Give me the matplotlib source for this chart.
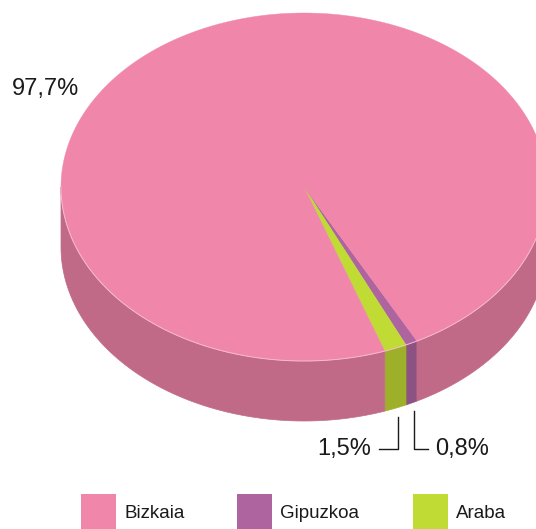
import matplotlib.pyplot as plt
from matplotlib.patches import Polygon, Rectangle
import numpy as np

# data
labels = ["Bizkaia", "Gipuzkoa", "Araba"]
values = [97.7, 0.8, 1.5]
top_colors = ["#f086aa", "#ae649e", "#c0db34"]
side_colors = ["#c06a88", "#8c5282", "#9eb02a"]

# slice order going clockwise on screen, starting at the small slices
order = [1, 2, 0]
start = 62.3

cx, cy, rx, ry, depth = 304, 187, 243, 174, 60

def arc(a1, a2, dy=0):
    t = np.radians(np.linspace(a1, a2, max(int(abs(a2 - a1) * 2), 2)))
    return np.column_stack([cx + rx * np.cos(t), cy + ry * np.sin(t) + dy])

fig = plt.figure(figsize=(5.36, 5.29), dpi=100)
ax = fig.add_axes([0, 0, 1, 1])
ax.set_xlim(0, 536)
ax.set_ylim(529, 0)
ax.axis("off")

# angle spans
spans = {}
a = start
for i in order:
    sweep = values[i] / sum(values) * 360
    spans[i] = (a, a + sweep)
    a += sweep

# side faces (front half only)
for i in order:
    a1, a2 = spans[i]
    for lo, hi in [(0, 180), (360, 540)]:
        s1, s2 = max(a1, lo), min(a2, hi)
        if s2 > s1:
            pts = np.vstack([arc(s1, s2), arc(s1, s2, depth)[::-1]])
            ax.add_patch(Polygon(pts, closed=True, fc=side_colors[i], ec=side_colors[i], lw=0.5))

# top faces
for i in order:
    a1, a2 = spans[i]
    pts = np.vstack([[cx, cy], arc(a1, a2)])
    ax.add_patch(Polygon(pts, closed=True, fc=top_colors[i], ec=top_colors[i], lw=0.3))

# light rim between top and side
rim = arc(0, 180)
ax.plot(rim[:, 0], rim[:, 1], color="#f6bccf", lw=0.7)

def pct(v):
    return f"{v:.1f}%".replace(".", ",")

font = "Liberation Sans"
ax.text(12, 89, pct(values[0]), fontsize=17, family=font, color="#1a1a1a", va="center", ha="left")
ax.text(371, 449, pct(values[2]), fontsize=17, family=font, color="#1a1a1a", va="center", ha="right")
ax.text(435, 449, pct(values[1]), fontsize=17, family=font, color="#1a1a1a", va="center", ha="left")

# leader lines
ax.plot([379, 397.5, 397.5], [449, 449, 417], color="#1a1a1a", lw=1)
ax.plot([414, 414, 428], [411, 449, 449], color="#1a1a1a", lw=1)

# legend
leg_x = [81, 237, 413]
for i, x in enumerate(leg_x):
    ax.add_patch(Rectangle((x, 494), 35, 35, fc=top_colors[i], ec="none"))
    ax.text(x + 43, 514, labels[i], fontsize=13.5, family=font, color="#1a1a1a", va="center", ha="left")

fig.savefig("out.png", dpi=100)
